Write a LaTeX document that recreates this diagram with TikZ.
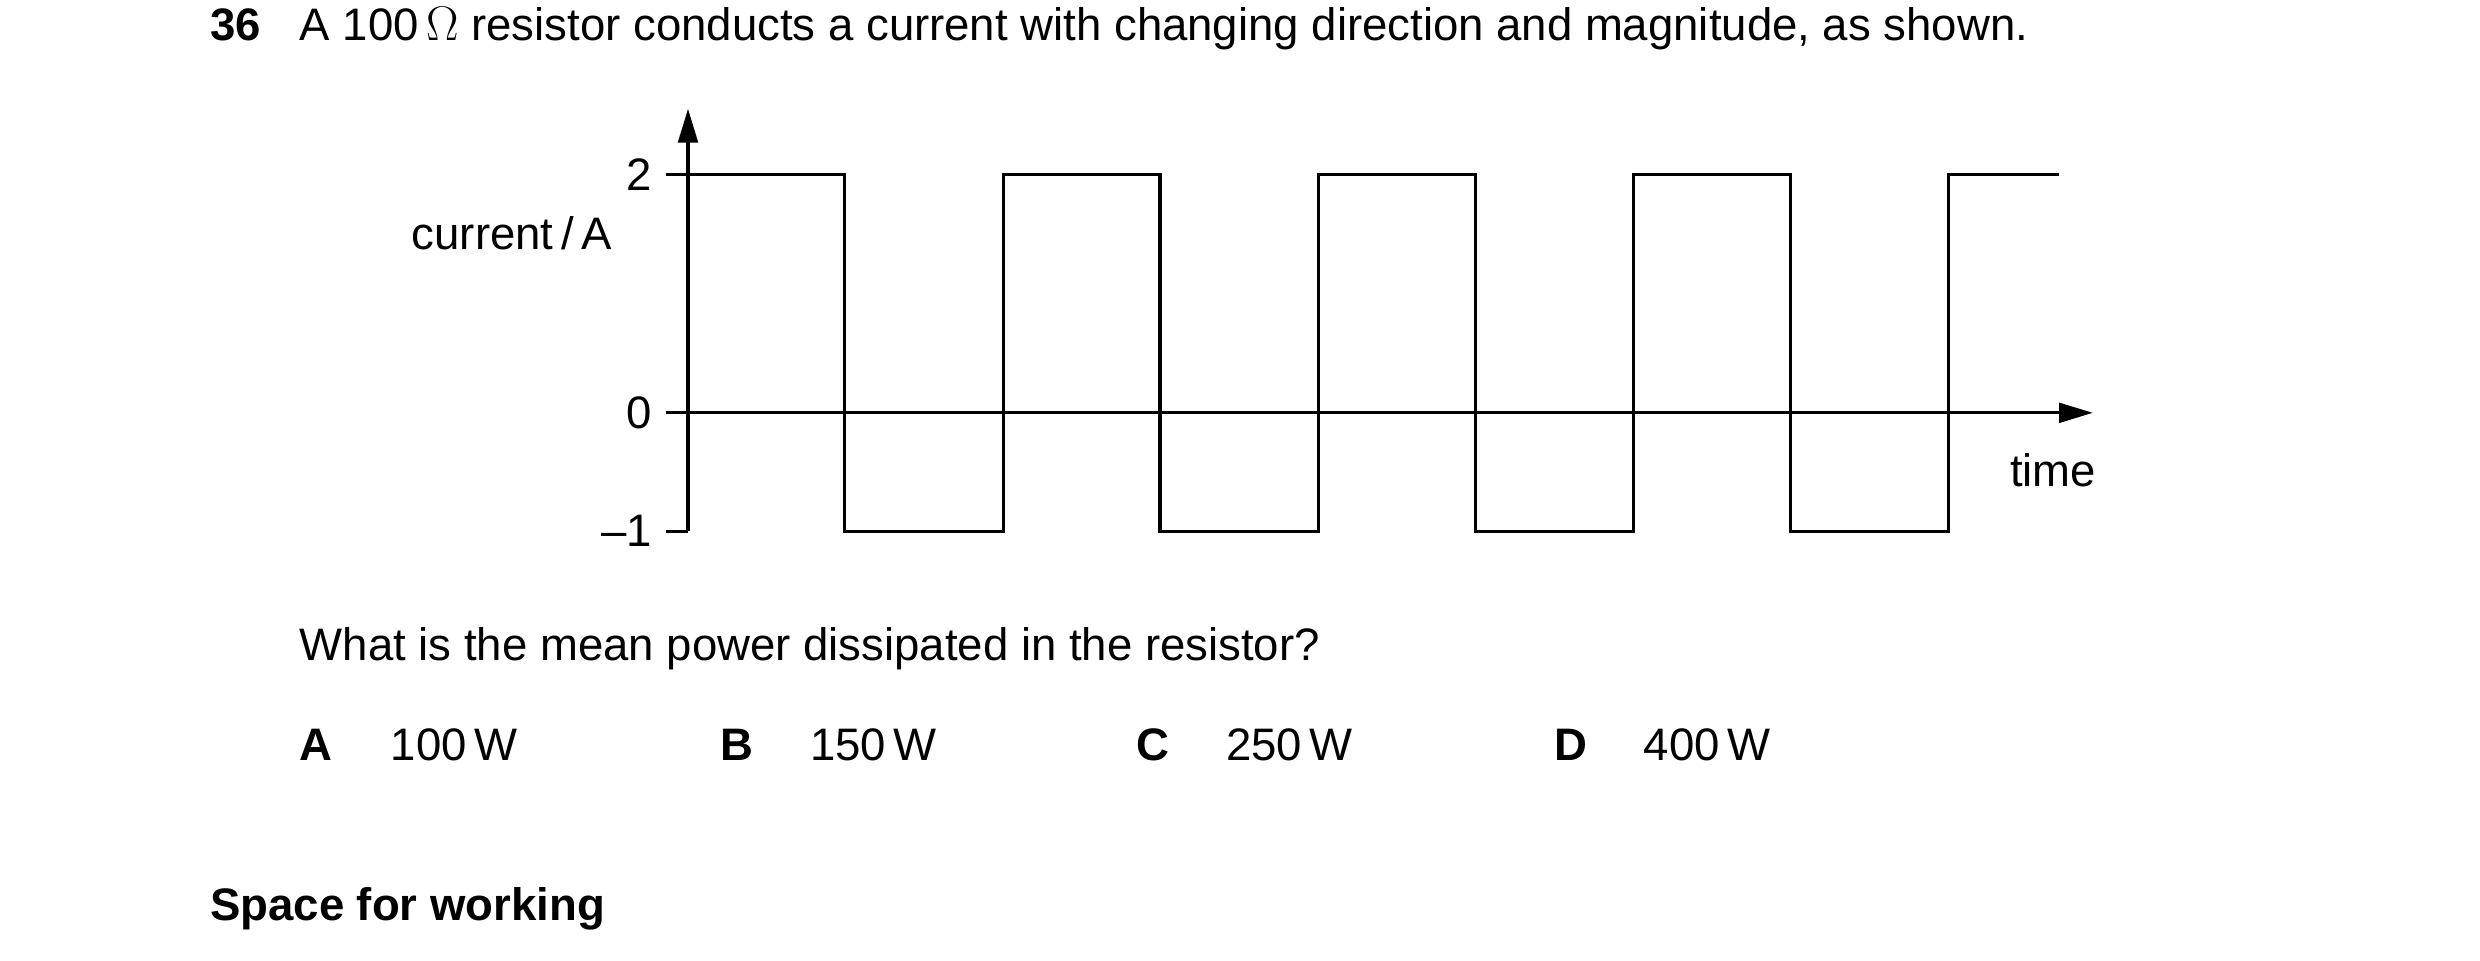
\documentclass[tikz,border=0pt]{standalone}
\usepackage{fontspec}
\setmainfont{Liberation Sans}
\usetikzlibrary{arrows.meta}
\begin{document}
\begin{tikzpicture}[x=0.02cm,y=-0.02cm,
  txt/.style={anchor=base west,inner sep=0pt,font=\fontsize{16.2}{19}\selectfont},
  bf/.style={txt,font=\fontsize{16.2}{19}\selectfont\bfseries},
  lab/.style={inner sep=0pt,font=\fontsize{16.2}{19}\selectfont},
  ln/.style={line width=1.1pt}]
\useasboundingbox[fill=white] (0,0) rectangle (1550,600);
\node[bf] (num) at (131,25) {36};
\node[txt] (q) at (187,25) {A 100\,$\Omega$ resistor conducts a current with changing direction and magnitude, as shown.};
% axes
\coordinate (ytop) at (430,68);
\coordinate (ybot) at (430,332);
\coordinate (xl) at (416,258);
\coordinate (xr) at (1308,258);
\draw[ln,-{Triangle[length=12pt,width=7pt]}] (ybot) -- (ytop);
\draw[ln,-{Triangle[length=12pt,width=7pt]}] (xl) -- (xr);
\draw[ln] (416,109) -- (430,109);
\draw[ln] (416,332) -- (430,332);
\node[lab,anchor=east] (l2) at (408,109) {2};
\node[lab,anchor=east] (l0) at (408,258) {0};
\node[lab,anchor=east] (lm1) at (408,332) {--1};
\node[txt] (cur) at (257,156) {current\,/\,A};
\node[txt] (time) at (1256,304) {time};
% square wave
\draw[ln] (430,109) -- (528,109) -- (528,332) -- (627,332) -- (627,109) -- (725,109) -- (725,332) -- (824,332) -- (824,109) -- (922,109) -- (922,332) -- (1021,332) -- (1021,109) -- (1119,109) -- (1119,332) -- (1218,332) -- (1218,109) -- (1287,109);
\node[txt] (ask) at (187,413) {What is the mean power dissipated in the resistor?};
\node[bf] (A) at (187,475) {A};
\node[txt] (a) at (244,475) {100\,W};
\node[bf] (B) at (450,475) {B};
\node[txt] (b) at (506,475) {150\,W};
\node[bf] (C) at (710,475) {C};
\node[txt] (c) at (766,475) {250\,W};
\node[bf] (D) at (971,475) {D};
\node[txt] (d) at (1027,475) {400\,W};
\node[bf] (sp) at (131,575) {Space for working};
\end{tikzpicture}
\end{document}
